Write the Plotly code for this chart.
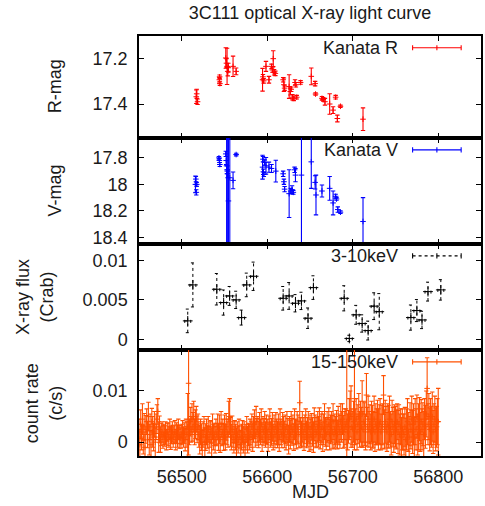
import numpy as np
import plotly.graph_objects as go
from plotly.subplots import make_subplots

# ---------------- data ----------------
r_mjd = [56517.0, 56517.5, 56518.5, 56544.0, 56544.3, 56544.6, 56551.5, 56552.3, 56553.0, 56553.8,
         56554.5, 56560.0, 56563.6, 56594.5, 56595.0, 56595.8, 56598.5, 56602.0, 56605.0, 56606.0,
         56607.0, 56608.0, 56609.5, 56618.6, 56619.5, 56620.3, 56625.6, 56627.0, 56628.0, 56629.5,
         56631.0, 56632.5, 56633.5, 56634.5, 56639.0, 56651.5, 56656.0, 56656.5, 56664.0, 56665.5,
         56667.5, 56673.0, 56677.0, 56680.0, 56682.0, 56685.6, 56712.0]
r_mag = [17.368, 17.355, 17.39, 17.293, 17.28, 17.31, 17.197, 17.22, 17.234, 17.256,
         17.24, 17.234, 17.256, 17.293, 17.28, 17.298, 17.234, 17.293, 17.234, 17.25,
         17.2, 17.26, 17.265, 17.293, 17.315, 17.33, 17.323, 17.345, 17.335, 17.37,
         17.375, 17.305, 17.315, 17.37, 17.305, 17.278, 17.31, 17.356, 17.375, 17.38,
         17.39, 17.4, 17.427, 17.37, 17.464, 17.41, 17.467]
r_err = [0.03, 0.02, 0.012, 0.01, 0.008, 0.008, 0.045, 0.02, 0.08, 0.02,
         0.02, 0.045, 0.015, 0.05, 0.01, 0.01, 0.022, 0.015, 0.01, 0.01,
         0.035, 0.012, 0.01, 0.01, 0.03, 0.01, 0.052, 0.015, 0.01, 0.012,
         0.01, 0.012, 0.01, 0.008, 0.008, 0.037, 0.01, 0.005, 0.008, 0.008,
         0.015, 0.045, 0.015, 0.008, 0.015, 0.005, 0.05]

v_mjd = [56516.0, 56516.5, 56517.0, 56517.5, 56543.5, 56544.0, 56544.5, 56551.5, 56552.0, 56552.5,
         56553.0, 56553.3, 56553.5, 56554.6, 56556.2, 56560.0, 56563.6, 56594.5, 56595.0, 56595.5,
         56596.0, 56597.0, 56598.5, 56602.0, 56605.0, 56610.0, 56618.6, 56619.5, 56620.3, 56625.6,
         56627.5, 56629.0, 56630.5, 56632.0, 56633.0, 56640.0, 56651.5, 56656.0, 56657.0, 56664.0,
         56673.0, 56677.0, 56680.0, 56681.0, 56682.5, 56685.6, 56712.0]
v_mag = [18.0, 17.96, 18.06, 18.0, 17.80, 17.82, 17.85, 17.77, 17.82, 17.86,
         17.89, 17.9, 17.92, 18.125, 17.95, 17.97, 17.775, 17.87, 17.81, 17.905,
         17.925, 17.835, 17.86, 17.87, 17.88, 17.9, 17.92, 17.98, 18.036, 18.07,
         18.05, 18.04, 18.06, 17.89, 17.93, 17.93, 17.83, 17.985, 18.08, 18.05,
         18.03, 18.14, 18.09, 18.11, 18.19, 18.21, 18.28]
v_err = [0.063, 0.02, 0.02, 0.015, 0.01, 0.015, 0.015, 0.02, 0.03, 0.9,
         0.03, 0.9, 0.03, 0.9, 1.0, 0.063, 0.01, 0.09, 0.02, 0.02,
         0.015, 0.02, 0.063, 0.038, 0.03, 0.082, 0.02, 0.02, 0.02, 0.18,
         0.02, 0.03, 0.015, 0.02, 0.05, 1.0, 0.2, 0.05, 0.15, 0.045,
         0.09, 0.09, 0.015, 0.01, 0.02, 0.01, 0.18]

x_mjd = [56507, 56513, 56541, 56549, 56556, 56563.6, 56570, 56576, 56584, 56618.6,
         56625.6, 56633, 56640, 56647.7, 56654, 56690, 56696, 56704, 56711, 56718,
         56725, 56731, 56768, 56775, 56781, 56788, 56803]
x_flux = [0.00233, 0.0069, 0.00635, 0.00466, 0.0055, 0.005, 0.00275, 0.0069, 0.008, 0.0052,
          0.0055, 0.00457, 0.00487, 0.00267, 0.00656, 0.0052, 0.0001, 0.0031, 0.002, 0.0011,
          0.0042, 0.0035, 0.00275, 0.00364, 0.00245, 0.00605, 0.00627]
x_ferr = [0.0015, 0.0028, 0.002, 0.0016, 0.0012, 0.0011, 0.00095, 0.0015, 0.0018, 0.0015,
          0.0017, 0.0011, 0.0011, 0.0013, 0.0015, 0.0016, 0.0004, 0.0012, 0.0011, 0.0012,
          0.0017, 0.0023, 0.0016, 0.0014, 0.0011, 0.0012, 0.0013]
x_binhalf = 3.5

bat_start = 56450
bat_rate_1e4 = [
    20, -5, 35, 10, 45, 5, 30, -10, 25, 40,
    15, 50, 5, 30, -5, 40, 20, 10, 35, 0,
    30, 45, 60, 10, 25, 5, 15, 20, 10, 15,
    12, 18, 5, 20, 15, 10, 25, 8, 15, 20,
    10, 15, 20, 5, 18, 12, 25, 10, 15, 8,
    15, 20, 10, 18, 5, 25, 15, 30, 115, 20,
    40, 25, 45, 30, 50, 20, 35, 45, 25, 30,
    15, 5, 20, 10, -5, 15, 25, 0, 10, 20,
    10, 25, 5, 15, 20, 0, 30, 10, 15, 5,
    20, 15, 30, 10, 25, 5, 35, 15, 20, 10,
    25, 10, 30, 20, 15, 45, 50, 20, 10, 25,
    15, 5, 20, 10, 0, 15, 5, 20, 10, -5,
    10, 20, 5, 15, 0, 10, 25, 5, 15, 10,
    20, 15, 30, 10, 25, 35, 15, 40, 20, 25,
    15, 30, 20, 35, 10, 25, 20, 30, 15, 25,
    20, 10, 25, 35, 15, 20, 30, 10, 25, 15,
    30, 20, 15, 25, 10, 35, 20, 15, 30, 25,
    15, 25, 10, 30, 20, 5, 25, 15, 30, 20,
    25, 10, 35, 20, 15, 30, 25, 15, 77, 20,
    15, 30, 20, 10, 25, 35, 15, 20, 30, 10,
    25, 15, 30, 20, 10, 35, 25, 15, 20, 30,
    20, 35, 15, 25, 30, 10, 25, 40, 20, 15,
    30, 20, 35, 15, 25, 30, 20, 40, 15, 25,
    20, 30, 15, 35, 25, 20, 40, 30, 45, 20,
    25, 35, 30, 40, 20, 30, 45, 55, 50, 30,
    25, 40, 85, 30, 45, 20, 35, 50, 25, 40,
    30, 55, 25, 40, 35, 20, 92, 30, 45, 25,
    35, 20, 40, 30, 25, 45, 20, 35, 30, 40,
    25, 35, 40, 20, 30, 35, 92, 25, 40, 30,
    20, 35, 30, 45, 25, 15, 40, 30, 20, 35,
    30, 25, 40, 20, 35, 15, 30, 10, 25, 20,
    15, 30, 5, 25, 40, 20, 10, 35, 25, 45,
    20, 35, 10, 40, 25, 50, 15, 30, 45, 20,
    40, 25, 35, 15, 45, 30, 55, 105, 35, 50,
    25, 40, 30, 50, 20, 35, 45, 25, 30, 40,
    40]
bat_err_1e4 = [
    25, 30, 28, 25, 30, 28, 26, 30, 27, 25,
    26, 28, 30, 25, 28, 26, 30, 27, 25, 28,
    25, 28, 25, 30, 26, 25, 22, 20, 22, 20,
    20, 22, 20, 18, 22, 20, 20, 22, 18, 20,
    20, 18, 22, 20, 20, 22, 20, 22, 18, 20,
    20, 22, 20, 20, 22, 20, 25, 65, 140, 25,
    28, 25, 30, 28, 30, 25, 28, 25, 26, 25,
    25, 28, 25, 26, 28, 25, 25, 28, 26, 25,
    22, 25, 26, 25, 22, 28, 25, 25, 22, 26,
    25, 22, 25, 26, 28, 25, 25, 22, 25, 26,
    28, 25, 26, 25, 25, 35, 35, 28, 25, 26,
    25, 26, 22, 25, 28, 25, 26, 25, 22, 28,
    25, 22, 26, 25, 28, 25, 25, 26, 22, 25,
    25, 26, 25, 28, 25, 28, 25, 30, 26, 25,
    26, 28, 25, 30, 28, 25, 26, 30, 25, 28,
    25, 28, 26, 30, 25, 26, 28, 25, 28, 26,
    28, 25, 26, 30, 28, 30, 25, 26, 28, 25,
    26, 28, 25, 30, 26, 28, 25, 28, 30, 26,
    28, 26, 30, 25, 28, 30, 28, 26, 42, 28,
    26, 30, 28, 26, 28, 30, 26, 28, 30, 28,
    28, 30, 26, 28, 30, 32, 28, 26, 28, 30,
    30, 32, 28, 30, 30, 28, 30, 35, 28, 30,
    30, 28, 32, 30, 28, 30, 32, 35, 28, 30,
    30, 32, 28, 35, 30, 32, 35, 30, 30, 32,
    35, 30, 35, 250, 35, 32, 40, 45, 60, 35,
    35, 40, 100, 35, 40, 35, 38, 45, 35, 40,
    38, 65, 35, 40, 42, 35, 42, 38, 45, 35,
    38, 35, 40, 42, 35, 45, 38, 40, 35, 42,
    40, 38, 45, 35, 42, 40, 38, 38, 42, 40,
    38, 40, 42, 45, 35, 40, 42, 38, 40, 38,
    40, 38, 35, 42, 38, 40, 35, 38, 40, 35,
    40, 38, 42, 40, 45, 38, 40, 42, 38, 45,
    42, 40, 38, 45, 40, 42, 40, 45, 42, 38,
    43, 40, 42, 45, 40, 42, 45, 60, 40, 45,
    42, 45, 40, 48, 42, 40, 45, 42, 40, 45,
    65]

bat_mjd = bat_start + np.arange(len(bat_rate_1e4))
bat_rate = np.array(bat_rate_1e4) * 1e-4
bat_err = np.array(bat_err_1e4) * 1e-4

x_tickvals = [56500, 56600, 56700, 56800]
x_ticktext = ["56500", "56600", "56700", "56800"]

title_text = "3C111 optical X-ray light curve"
legend_names = ["Kanata R", "Kanata V", "3-10keV", "15-150keV"]
ylabels = ["R-mag", "V-mag", "X-ray flux<br>(Crab)", "count rate<br>(c/s)"]

RED = "#ff0000"
BLUE = "#0000ff"
ORANGE = "#ff5000"
FONT = "Liberation Sans, Arial, sans-serif"
FS = 18
TXT = "#1a1a1a"

fig = make_subplots(rows=4, cols=1, shared_xaxes=True, vertical_spacing=0,
                    row_heights=[102, 106, 106, 106])

def err_trace(x, y, e, color, row):
    fig.add_trace(go.Scatter(
        x=x, y=y, mode="markers",
        marker=dict(symbol="cross-thin", size=4, line=dict(color=color, width=1)),
        error_y=dict(type="data", array=e, visible=True, color=color, thickness=1.1, width=2.2),
        showlegend=False), row=row, col=1)

err_trace(r_mjd, r_mag, r_err, RED, 1)
err_trace(v_mjd, v_mag, v_err, BLUE, 2)

# dotted error bars for the 3-10 keV points
vx, vy = [], []
capx = 2.3
capy = 0.00025
for xm, f, e in zip(x_mjd, x_flux, x_ferr):
    vx += [xm, xm, None, xm - capx, xm + capx, None, xm - capx, xm + capx, None]
    vy += [f - e, f + e, None, f - e, f - e, None, f + e, f + e, None]
    vx += [xm - x_binhalf, xm + x_binhalf, None, xm - x_binhalf, xm - x_binhalf, None,
           xm + x_binhalf, xm + x_binhalf, None]
    vy += [f, f, None, f - capy, f + capy, None, f - capy, f + capy, None]
fig.add_trace(go.Scatter(x=vx, y=vy, mode="lines", line=dict(color="black", width=1, dash="dot"),
                         showlegend=False, hoverinfo="skip"), row=3, col=1)
fig.add_trace(go.Scatter(x=x_mjd, y=x_flux, mode="markers",
                         marker=dict(symbol="cross-thin", size=7, line=dict(color="black", width=1)),
                         showlegend=False), row=3, col=1)

err_trace(bat_mjd, bat_rate, bat_err, ORANGE, 4)

# axes
xr = [56450, 56850]
for i in range(1, 5):
    fig.update_xaxes(row=i, col=1, range=xr, showline=True, linecolor="black", linewidth=1.5,
                     mirror="allticks", ticks="inside", ticklen=5, tickcolor="black",
                     showgrid=False, zeroline=False, tickvals=x_tickvals, ticktext=x_ticktext,
                     showticklabels=(i == 4), tickfont=dict(family=FONT, size=FS, color=TXT),
                     ticklabelstandoff=4)

yconf = [
    dict(range=[17.55, 17.1], tickvals=[17.2, 17.4], ticktext=["17.2", "17.4"]),
    dict(range=[18.45, 17.65], tickvals=[17.8, 18.0, 18.2, 18.4], ticktext=["17.8", "18", "18.2", "18.4"]),
    dict(range=[-0.00137, 0.0121], tickvals=[0, 0.005, 0.01], ticktext=["0", "0.005", "0.01"]),
    dict(range=[-0.0027, 0.018], tickvals=[0, 0.01], ticktext=["0", "0.01"]),
]
for i, yc in enumerate(yconf, start=1):
    fig.update_yaxes(row=i, col=1, showline=True, linecolor="black", linewidth=1.5,
                     mirror="allticks", ticks="inside", ticklen=5, tickcolor="black",
                     showgrid=False, zeroline=False, tickfont=dict(family=FONT, size=FS, color=TXT),
                     ticklabelstandoff=6, **yc)

# legends (text + sample line)
legend_colors = [RED, BLUE, "black", ORANGE]
yrefs = ["y domain", "y2 domain", "y3 domain", "y4 domain"]
xrefs = ["x domain", "x2 domain", "x3 domain", "x4 domain"]
ly = [0.885, 0.888, 0.888, 0.888]
annotations = []
shapes = []
for i in range(4):
    annotations.append(dict(text=legend_names[i], xref=xrefs[i], yref=yrefs[i], x=0.762, y=ly[i],
                            xanchor="right", yanchor="middle", showarrow=False,
                            font=dict(family=FONT, size=FS, color=TXT)))
    dash = "dot" if i == 2 else "solid"
    x0, x1 = 0.800, 0.942
    shapes.append(dict(type="line", xref=xrefs[i], yref=yrefs[i], x0=x0, x1=x1, y0=ly[i], y1=ly[i],
                       line=dict(color=legend_colors[i], width=1.1, dash=dash)))
    for xx in (x0, (x0 + x1) / 2, x1):
        shapes.append(dict(type="line", xref=xrefs[i], yref=yrefs[i], x0=xx, x1=xx,
                           y0=ly[i] - 0.025, y1=ly[i] + 0.025,
                           line=dict(color=legend_colors[i], width=1.1)))

# axis titles
ytitle_pos = [(-0.247, 0.879), (-0.247, 0.631), (-0.305, 0.378), (-0.28, 0.126)]
for txt, (px, py) in zip(ylabels, ytitle_pos):
    annotations.append(dict(text=txt, xref="paper", yref="paper", x=px, y=py, textangle=-90,
                            xanchor="center", yanchor="middle", showarrow=False,
                            font=dict(family=FONT, size=FS, color=TXT)))
annotations.append(dict(text="MJD", xref="paper", yref="paper", x=0.5, y=-0.086,
                        xanchor="center", yanchor="middle", showarrow=False,
                        font=dict(family=FONT, size=FS, color=TXT)))

fig.update_layout(
    width=485, height=506,
    margin=dict(l=139, r=2, t=36, b=50),
    paper_bgcolor="white", plot_bgcolor="white",
    title=dict(text=title_text, x=0.5, xref="paper", y=1 - 13 / 506, yref="container",
               xanchor="center", yanchor="middle", font=dict(family=FONT, size=FS, color=TXT)),
    annotations=annotations, shapes=shapes, showlegend=False,
)

fig.write_html("out.html",
               config={"displayModeBar": False},
               post_script="document.body.style.margin='0px';document.body.style.overflow='hidden';")
